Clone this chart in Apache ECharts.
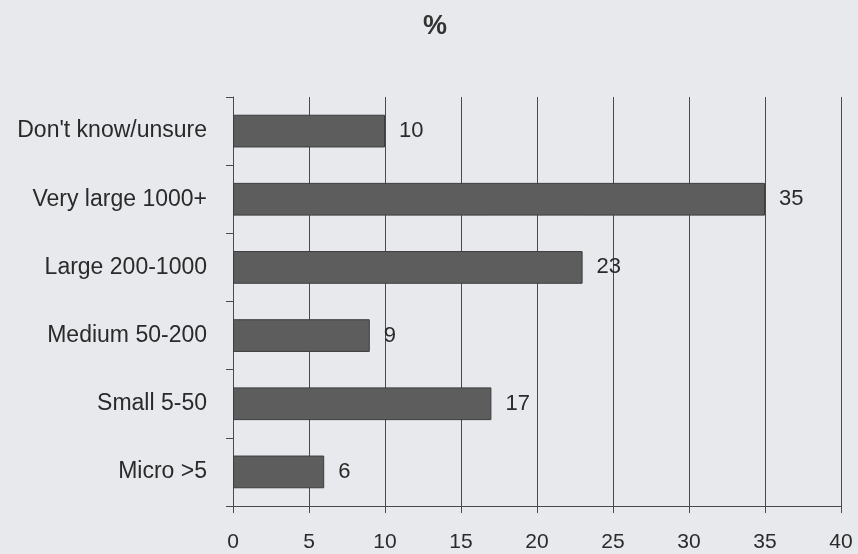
<!DOCTYPE html>
<html>
<head>
<meta charset="utf-8">
<script src="https://cdn.jsdelivr.net/npm/echarts@6/dist/echarts.min.js"></script>
<style>
  html, body { margin: 0; padding: 0; background: #e7e9ed; }
  #chart { width: 858px; height: 554px; }
</style>
</head>
<body>
<div id="chart"></div>
<script>
// Company size categories, top to bottom
const categories = ['Don\'t know/unsure', 'Very large 1000+', 'Large 200-1000', 'Medium 50-200', 'Small 5-50', 'Micro >5'];
// Share of respondents (%)
const values = [10, 35, 23, 9, 17, 6];
// Value axis range
const axisMin = 0;
const axisMax = 40;
const axisStep = 5;

const chart = echarts.init(document.getElementById('chart'));
const font = '"Liberation Sans", Arial, sans-serif';
const lineColor = '#4a4a4a';
const textColor = '#2a2a2a';

chart.setOption({
  backgroundColor: '#e7e9ed',
  animation: false,
  title: {
    text: '%',
    left: 430,
    top: 8,
    textAlign: 'center',
    textStyle: { fontFamily: font, fontSize: 27, fontWeight: 'bold', color: '#333333' }
  },
  grid: { left: 233, right: 17, top: 97, bottom: 48, containLabel: false },
  xAxis: {
    type: 'value',
    min: axisMin,
    max: axisMax,
    interval: axisStep,
    axisLine: { show: true, lineStyle: { color: lineColor, width: 1 } },
    axisTick: { show: true, length: 7, lineStyle: { color: lineColor } },
    splitLine: { show: true, lineStyle: { color: lineColor, width: 1 } },
    axisLabel: { margin: 26, fontFamily: font, fontSize: 21, color: textColor }
  },
  yAxis: {
    type: 'category',
    data: categories,
    inverse: true,
    axisLine: { show: true, lineStyle: { color: lineColor, width: 1 } },
    axisTick: { show: true, length: 7, alignWithLabel: false, lineStyle: { color: lineColor } },
    axisLabel: { margin: 26, fontFamily: font, fontSize: 23, color: textColor }
  },
  series: [{
    type: 'bar',
    data: values,
    barCategoryGap: '52%',
    itemStyle: { color: '#5d5d5d', borderColor: '#3c3c3c', borderWidth: 1 },
    label: {
      show: true,
      position: 'right',
      distance: 14,
      fontFamily: font,
      fontSize: 22,
      color: textColor
    }
  }]
});
</script>
</body>
</html>
